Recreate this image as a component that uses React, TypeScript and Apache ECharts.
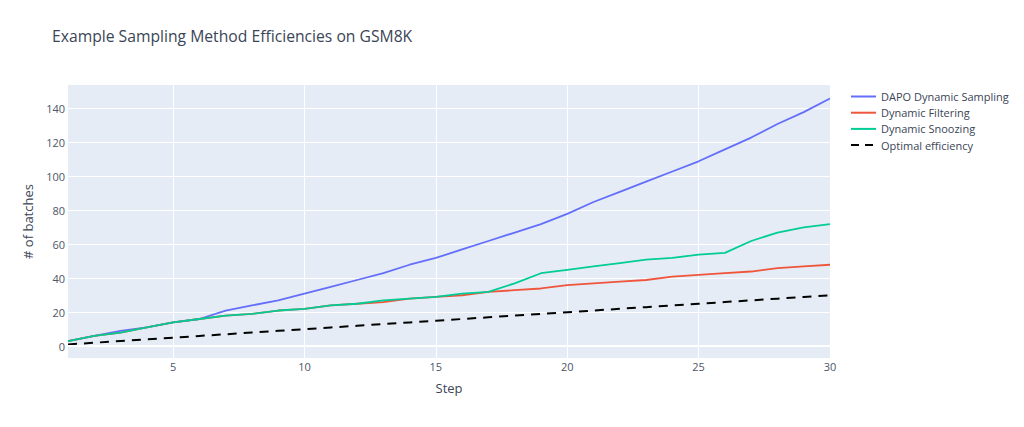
import { useRef, useEffect } from "react"
import * as echarts from "echarts"

const steps = Array.from({ length: 30 }, (_, i) => i + 1)

const dapoSampling = [
  3, 6, 9, 11, 14, 16, 21, 24, 27, 31, 35, 39, 43, 48, 52, 57, 62, 67, 72, 78, 85, 91, 97, 103, 109,
  116, 123, 131, 138, 146,
]
const dynamicFiltering = [
  3, 6, 8, 11, 14, 16, 18, 19, 21, 22, 24, 25, 26, 28, 29, 30, 32, 33, 34, 36, 37, 38, 39, 41, 42, 43,
  44, 46, 47, 48,
]
const dynamicSnoozing = [
  3, 6, 8, 11, 14, 16, 18, 19, 21, 22, 24, 25, 27, 28, 29, 31, 32, 37, 43, 45, 47, 49, 51, 52, 54, 55,
  62, 67, 70, 72,
]
const optimal = [
  1, 2, 3, 4, 5, 6, 7, 8, 9, 10, 11, 12, 13, 14, 15, 16, 17, 18, 19, 20, 21, 22, 23, 24, 25, 26, 27,
  28, 29, 30,
]

const xTicks = [5, 10, 15, 20, 25, 30]
const yTicks = [0, 20, 40, 60, 80, 100, 120, 140]

const font = "Open Sans, Verdana, sans-serif"
const textColor = "#3a4556"
const tickColor = "#4c5666"

const toPoints = (values: number[]) => steps.map((s, i) => [s, values[i]])

export default function App() {
  const chartRef = useRef<HTMLDivElement>(null)

  useEffect(() => {
    if (!chartRef.current) return
    document.body.style.margin = "0"

    const instance = echarts.init(chartRef.current, undefined, { renderer: "svg" })

    instance.setOption({
      animation: false,
      backgroundColor: "#ffffff",
      title: {
        text: "Example Sampling Method Efficiencies on GSM8K",
        left: 52,
        top: 28,
        padding: 0,
        textStyle: { fontFamily: font, fontSize: 15.7, fontWeight: "normal", color: textColor },
      },
      legend: {
        orient: "vertical",
        left: 850,
        top: 91,
        padding: 0,
        itemWidth: 25,
        itemHeight: 12,
        itemGap: 5.2,
        itemStyle: { opacity: 0 },
        textStyle: { fontFamily: font, fontSize: 11, color: textColor },
        data: [
          { name: "DAPO Dynamic Sampling" },
          { name: "Dynamic Filtering" },
          { name: "Dynamic Snoozing" },
          { name: "Optimal efficiency", lineStyle: { type: [8, 6], width: 2 } },
        ],
      },
      grid: {
        left: 68,
        right: 194,
        top: 85,
        bottom: 69,
        show: true,
        backgroundColor: "#e5ecf6",
        borderWidth: 0,
      },
      xAxis: {
        type: "value",
        min: 1,
        max: 30,
        name: "Step",
        nameLocation: "middle",
        nameGap: 23,
        nameTextStyle: { fontFamily: font, fontSize: 13, color: textColor },
        axisLine: { show: false },
        axisTick: { show: false, customValues: xTicks },
        axisLabel: {
          customValues: xTicks,
          margin: 3,
          fontFamily: font,
          fontSize: 11,
          color: tickColor,
        },
        splitLine: { show: true, lineStyle: { color: "#ffffff", width: 1 } },
      },
      yAxis: {
        type: "value",
        min: -7,
        max: 154,
        name: "# of batches",
        nameLocation: "middle",
        nameGap: 34,
        nameTextStyle: { fontFamily: font, fontSize: 13, color: textColor },
        axisLine: { show: false },
        axisTick: { show: false, customValues: yTicks },
        axisLabel: {
          customValues: yTicks,
          margin: 3,
          fontFamily: font,
          fontSize: 11,
          color: tickColor,
        },
        splitLine: { show: true, lineStyle: { color: "#ffffff", width: 1 } },
      },
      series: [
        {
          name: "DAPO Dynamic Sampling",
          type: "line",
          symbol: "none",
          data: toPoints(dapoSampling),
          itemStyle: { color: "#636efa" },
          lineStyle: { color: "#636efa", width: 1.8 },
          markLine: {
            silent: true,
            symbol: "none",
            label: { show: false },
            lineStyle: { color: "#ffffff", width: 2, type: "solid" },
            data: [{ yAxis: 0 }],
          },
        },
        {
          name: "Dynamic Filtering",
          type: "line",
          symbol: "none",
          data: toPoints(dynamicFiltering),
          itemStyle: { color: "#ef553b" },
          lineStyle: { color: "#ef553b", width: 1.8 },
        },
        {
          name: "Dynamic Snoozing",
          type: "line",
          symbol: "none",
          data: toPoints(dynamicSnoozing),
          itemStyle: { color: "#00cc96" },
          lineStyle: { color: "#00cc96", width: 1.8 },
        },
        {
          name: "Optimal efficiency",
          type: "line",
          symbol: "none",
          data: toPoints(optimal),
          itemStyle: { color: "#000000" },
          lineStyle: { color: "#000000", width: 2, type: [9, 7] },
        },
      ],
    })

    return () => {
      instance.dispose()
    }
  }, [])

  return <div ref={chartRef} style={{ width: 1024, height: 427 }} />
}
